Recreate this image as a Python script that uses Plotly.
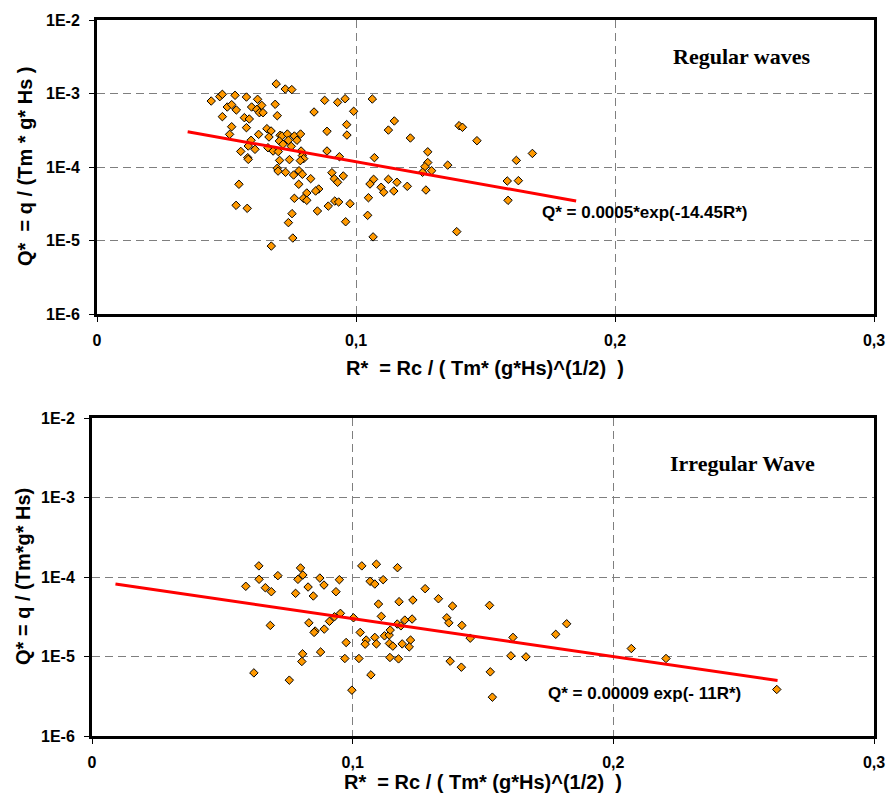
import math
import plotly.graph_objects as go

# ---------------- data ----------------
# Regular waves
R_reg = [0.0692, 0.0727, 0.0752, 0.0441, 0.0474, 0.0484, 0.0533, 0.0577, 0.0620, 0.0503,
         0.0520, 0.0538, 0.0597, 0.0617, 0.0636, 0.0627, 0.0641, 0.0688, 0.0484, 0.0569,
         0.0588, 0.0696, 0.0879, 0.0929, 0.0958, 0.0991, 0.0838, 0.0520, 0.0577, 0.0512,
         0.0624, 0.0656, 0.0672, 0.0664, 0.0707, 0.0714, 0.0735, 0.0762, 0.0786, 0.0888,
         0.0964, 0.0965, 0.0704, 0.0739, 0.0772, 0.0718, 0.0750, 0.0595, 0.0584, 0.0555,
         0.0610, 0.0660, 0.0680, 0.0700, 0.0888, 0.0936, 0.0582, 0.0584, 0.0743, 0.0705,
         0.0788, 0.0793, 0.0798, 0.0785, 0.0696, 0.0699, 0.0728, 0.0759, 0.0780, 0.0793,
         0.0825, 0.0907, 0.0916, 0.0929, 0.0951, 0.0548, 0.0779, 0.0810, 0.0856, 0.0844,
         0.0762, 0.0797, 0.0810, 0.0918, 0.0933, 0.0893, 0.0977, 0.0537, 0.0580, 0.0851,
         0.0753, 0.0739, 0.0960, 0.0756, 0.0673,
         0.1063, 0.1148, 0.1125, 0.1210, 0.1398, 0.1411, 0.1467, 0.1071, 0.1277, 0.1277,
         0.1266, 0.1257, 0.1292, 0.1354, 0.1619, 0.1681, 0.1068, 0.1054, 0.1125, 0.1158,
         0.1097, 0.1107, 0.1146, 0.1198, 0.1270, 0.1584, 0.1627, 0.1048, 0.1587, 0.1045,
         0.1066, 0.1389]
Q_reg = [1.35e-3, 1.15e-3, 1.13e-3, 7.9e-4, 9.06e-4, 9.75e-4, 9.45e-4, 8.95e-4, 8.34e-4, 6.55e-4,
         7.05e-4, 5.97e-4, 6.55e-4, 6.09e-4, 6.9e-4, 5.48e-4, 5.48e-4, 7.13e-4, 4.84e-4, 4.69e-4,
         4.5e-4, 4.99e-4, 8.07e-4, 7.58e-4, 8.49e-4, 5.73e-4, 5.6e-4, 3.53e-4, 3.43e-4, 2.78e-4,
         2.78e-4, 3.32e-4, 3.09e-4, 2.56e-4, 2.70e-4, 2.64e-4, 2.81e-4, 2.64e-4, 2.81e-4, 3.06e-4,
         3.77e-4, 2.72e-4, 2.26e-4, 2.31e-4, 2.31e-4, 2.04e-4, 1.91e-4, 2.31e-4, 1.93e-4, 1.63e-4,
         1.74e-4, 1.83e-4, 1.65e-4, 1.62e-4, 1.65e-4, 1.38e-4, 1.34e-4, 1.27e-4, 1.26e-4, 1.23e-4,
         1.65e-4, 1.43e-4, 1.30e-4, 1.22e-4, 9.6e-5, 8.8e-5, 8.46e-5, 7.78e-5, 8.9e-5, 7.96e-5,
         6.94e-5, 8.36e-5, 6.94e-5, 6.19e-5, 7.55e-5, 5.82e-5, 5.82e-5, 4.43e-5, 5.02e-5, 4.71e-5,
         3.75e-5, 3.75e-5, 3.52e-5, 3.44e-5, 3.34e-5, 2.94e-5, 3.17e-5, 3.01e-5, 2.74e-5, 2.52e-5,
         2.32e-5, 1.75e-5, 1.80e-5, 1.08e-5, 8.4e-6,
         8.41e-4, 4.23e-4, 3.18e-4, 2.48e-4, 3.65e-4, 3.47e-4, 2.28e-4, 1.34e-4, 1.61e-4, 1.15e-4,
         1.01e-4, 8.47e-5, 8.9e-5, 1.06e-4, 1.23e-4, 1.53e-4, 6.8e-5, 5.87e-5, 6.8e-5, 6.2e-5,
         5.3e-5, 4.53e-5, 4.71e-5, 5.46e-5, 4.86e-5, 6.45e-5, 6.52e-5, 3.82e-5, 3.52e-5, 2.2e-5,
         1.12e-5, 1.32e-5]

# Irregular waves
R_irr = [0.0640, 0.0641, 0.0590, 0.0665, 0.0688, 0.0713, 0.0800, 0.0809, 0.0790, 0.0781,
         0.0829, 0.0849, 0.0874, 0.0890, 0.0936, 0.0949, 0.0684, 0.0832, 0.0856, 0.0852,
         0.0891, 0.0911, 0.0930, 0.0953, 0.1003, 0.1035, 0.1091, 0.1172, 0.1067, 0.1085,
         0.1117, 0.1099, 0.1178, 0.1231, 0.1110, 0.1029, 0.1052, 0.1048, 0.1085, 0.1091,
         0.1122, 0.1140, 0.1144, 0.1171, 0.1185, 0.1200, 0.1228, 0.1141, 0.1154, 0.1190,
         0.1222, 0.1217, 0.0975, 0.0808, 0.0805, 0.0877, 0.0970, 0.1024, 0.1143, 0.1176,
         0.0621, 0.0757, 0.1070, 0.0997,
         0.1278, 0.1329, 0.1383, 0.1361, 0.1369, 0.1419, 0.1451, 0.1525, 0.1615, 0.1779,
         0.1821, 0.2069, 0.2202, 0.1374, 0.1417, 0.1607, 0.1665, 0.1528, 0.1536, 0.2627]
Q_irr = [1.38e-4, 9.36e-5, 7.64e-5, 7.33e-5, 6.53e-5, 1.04e-4, 1.30e-4, 1.06e-4, 9.35e-5, 6.23e-5,
         7.48e-5, 5.77e-5, 9.7e-5, 7.92e-5, 6.53e-5, 9.25e-5, 2.46e-5, 2.65e-5, 2.09e-5, 2.01e-5,
         2.21e-5, 2.77e-5, 3.16e-5, 3.49e-5, 3.07e-5, 1.38e-4, 1.45e-4, 1.31e-4, 8.83e-5, 8.16e-5,
         9.25e-5, 4.57e-5, 4.89e-5, 5.13e-5, 3.2e-5, 2.01e-5, 1.61e-5, 1.43e-5, 1.74e-5, 1.44e-5,
         1.82e-5, 1.86e-5, 2.15e-5, 2.56e-5, 2.43e-5, 2.87e-5, 2.96e-5, 1.46e-5, 1.35e-5, 1.44e-5,
         1.61e-5, 1.32e-5, 1.50e-5, 1.08e-5, 8.65e-6, 1.14e-5, 9.44e-6, 9.44e-6, 9.72e-6, 9.33e-6,
         6.22e-6, 5.04e-6, 5.87e-6, 3.77e-6,
         7.13e-5, 5.33e-5, 4.31e-5, 3.07e-5, 2.65e-5, 2.46e-5, 1.70e-5, 4.4e-5, 1.74e-5, 1.90e-5,
         2.58e-5, 1.26e-5, 9.44e-6, 8.73e-6, 7.34e-6, 1.02e-5, 9.9e-6, 6.41e-6, 3.08e-6, 3.85e-6]

# fitted trend lines (Q* = a * exp(b R*)) and the R* range they are drawn over
fit_reg_a, fit_reg_b, fit_reg_R = 0.0005, -14.45, [0.035, 0.185]
fit_irr_a, fit_irr_b, fit_irr_R = 0.00009, -11.0, [0.009, 0.263]

x_tickvals = [0, 0.1, 0.2, 0.3]
x_ticktext = ["0", "0,1", "0,2", "0,3"]
y_tickvals = [1e-6, 1e-5, 1e-4, 1e-3, 1e-2]
y_ticktext = ["1E-6", "1E-5", "1E-4", "1E-3", "1E-2"]

fit_reg_Q = [fit_reg_a * math.exp(fit_reg_b * r) for r in fit_reg_R]
fit_irr_Q = [fit_irr_a * math.exp(fit_irr_b * r) for r in fit_irr_R]

# ---------------- figure ----------------
W, H = 888, 795
def px(x):
    return x / W
def py(y):
    return 1 - y / H

SANS = "Liberation Sans, Arial, sans-serif"
SERIF = "Liberation Serif, Times New Roman, serif"

marker = dict(symbol="diamond", size=6.5, color="#FF9900",
              line=dict(color="black", width=1))

fig = go.Figure()
fig.add_trace(go.Scatter(x=R_reg, y=Q_reg, mode="markers", marker=marker,
                         xaxis="x", yaxis="y", showlegend=False))
fig.add_trace(go.Scatter(x=fit_reg_R, y=fit_reg_Q, mode="lines",
                         line=dict(color="#FF0000", width=3),
                         xaxis="x", yaxis="y", showlegend=False))
fig.add_trace(go.Scatter(x=R_irr, y=Q_irr, mode="markers", marker=marker,
                         xaxis="x2", yaxis="y2", showlegend=False))
fig.add_trace(go.Scatter(x=fit_irr_R, y=fit_irr_Q, mode="lines",
                         line=dict(color="#FF0000", width=3),
                         xaxis="x2", yaxis="y2", showlegend=False))

common = dict(showline=True, mirror=True, linewidth=3, linecolor="black",
              ticks="outside", ticklen=5, tickwidth=1, tickcolor="black",
              showgrid=True, gridcolor="#7f7f7f", gridwidth=1, griddash="8px,5px",
              zeroline=False, automargin=False,
              tickfont=dict(family=SANS, size=16, color="black", weight="bold"))

xcommon = dict(common, range=[0, 0.3], tickmode="array", tickvals=x_tickvals,
               ticktext=x_ticktext, ticklabelstandoff=5)
ycommon = dict(common, type="log", range=[-6, -2], tickmode="array",
               tickvals=y_tickvals, ticktext=y_ticktext, ticklabelstandoff=6)

fig.update_layout(
    template="none",
    width=W, height=H,
    margin=dict(l=0, r=0, t=0, b=0, autoexpand=False),
    paper_bgcolor="white", plot_bgcolor="white",
    xaxis=dict(xcommon, domain=[px(97), px(874)], anchor="y"),
    yaxis=dict(ycommon, domain=[py(314), py(20)], anchor="x"),
    xaxis2=dict(xcommon, domain=[px(92), px(874)], anchor="y2"),
    yaxis2=dict(ycommon, domain=[py(736), py(418)], anchor="x2"),
)

ann = []
def add_text(text, x, y, font, angle=0, xanchor="center"):
    ann.append(dict(text=text, x=px(x), y=py(y), xref="paper", yref="paper",
                    showarrow=False, xanchor=xanchor, yanchor="middle",
                    textangle=angle, font=font))

title_font = dict(family=SANS, size=20, color="black", weight="bold")
eq_font = dict(family=SANS, size=17, color="black", weight="bold")
label_font = dict(family=SERIF, size=22, color="black", weight="bold")

add_text("R*  = Rc / ( Tm* (g*Hs)^(1/2)  )", 485, 368, title_font)
add_text("R*  = Rc / ( Tm* (g*Hs)^(1/2)  )", 483, 782, title_font)
add_text("Q*  = q / (Tm * g* Hs )", 25, 167, title_font, angle=-90)
add_text("Q* = q / (Tm*g* Hs)", 23, 577, title_font, angle=-90)
add_text("Regular waves", 742, 57, label_font)
add_text("Irregular Wave", 742, 463, label_font)
add_text("Q* = 0.0005*exp(-14.45R*)", 645, 213, eq_font)
add_text("Q* = 0.00009 exp(- 11R*)", 644, 693, eq_font)

fig.update_layout(annotations=ann)
fig.write_html(
    "out.html",
    config={"displayModeBar": False},
    post_script="document.body.style.margin='0px';"
                "document.documentElement.style.overflow='hidden';",
)
